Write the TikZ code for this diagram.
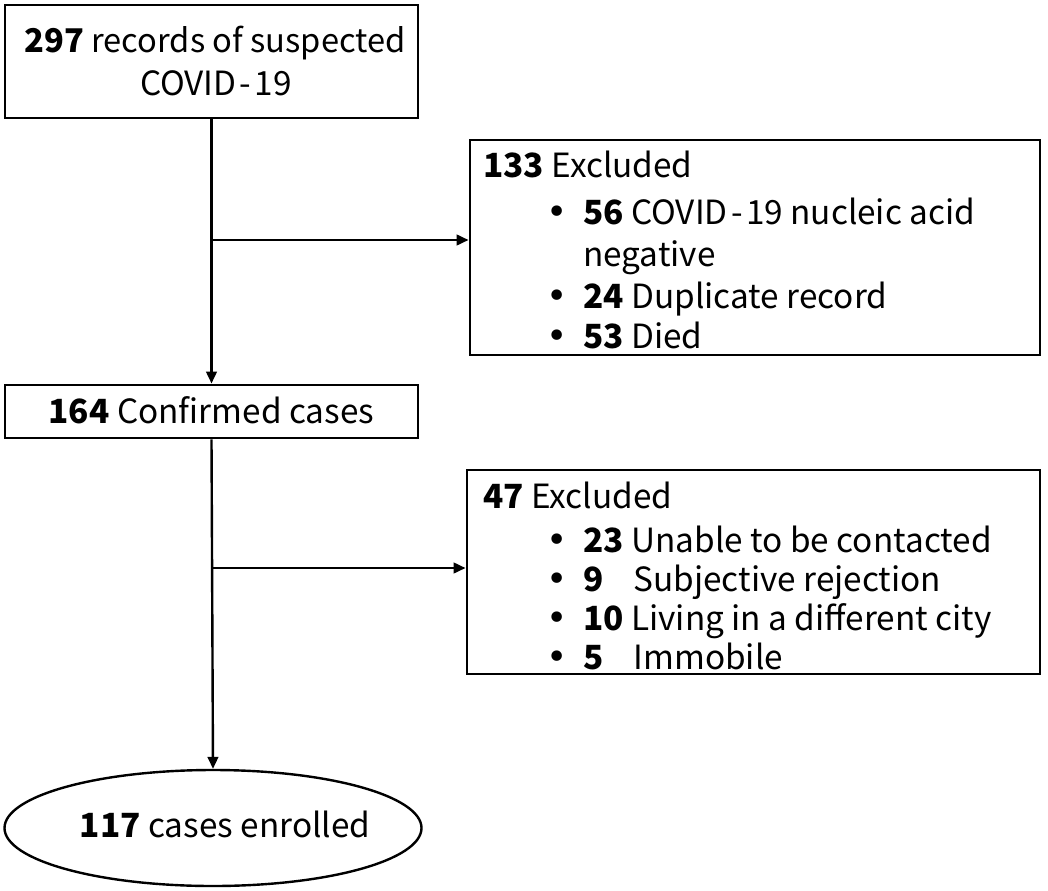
\documentclass[tikz,border=0pt]{standalone}
\usepackage{fontspec}
\setmainfont{Noto Sans CJK SC}
\newfontfamily\bulfont{DejaVu Sans}
\usetikzlibrary{arrows.meta,shapes.geometric}
\newcommand{\hy}{\kern2.5pt-\kern2.5pt}
\newcommand{\bul}{{\bulfont\fontsize{27}{30}\selectfont •}}
\tikzset{
  boxst/.style={draw, line width=2.2pt, rectangle, inner sep=0pt},
  ellst/.style={draw, line width=1.8pt, ellipse, inner sep=0pt},
  conn/.style={line width=1.8pt, -{Triangle[length=9pt,width=8pt]}},
  txt/.style={font=\fontsize{25}{30}\selectfont, inner sep=0pt},
  ltxt/.style={txt, anchor=base west},
  btxt/.style={inner sep=0pt, anchor=base},
}
\begin{document}
\begin{tikzpicture}[x=0.75pt,y=-0.75pt]
\useasboundingbox (0,0) rectangle (1048,891);
% boxes
\node[boxst, minimum width=309.75pt, minimum height=84.75pt] (b1) at (211.5,61.5) {};
\node[boxst, minimum width=309.75pt, minimum height=39.75pt] (b2) at (211.5,411.5) {};
\node[boxst, minimum width=427.5pt, minimum height=161.25pt] (b3) at (755,247.5) {};
\node[boxst, minimum width=429.75pt, minimum height=153pt] (b4) at (753.5,572) {};
\node[ellst, minimum width=312.75pt, minimum height=87pt] (en) at (213,828) {};
% box texts
\node[txt, anchor=base, font=\fontsize{24.5}{30}\selectfont] (t1a) at (215,53) {\textbf{297} records of suspected};
\node[txt, anchor=base] (t1b) at (216,96) {COVID\hy 19};
\node[txt, anchor=base] (t2) at (211.5,423) {\textbf{164} Confirmed cases};
\node[txt, anchor=base] (t5) at (225,837) {\textbf{117} cases enrolled};
% box 3 lines
\node[ltxt] (h3) at (483,178) {\textbf{133} Excluded};
\node[btxt] (u1) at (557,224) {\bul};
\node[ltxt] (l1) at (583,224) {\textbf{56} COVID\hy 19 nucleic acid};
\node[ltxt] (l1b) at (583,266) {negative};
\node[btxt] (u2) at (557,308) {\bul};
\node[ltxt] (l2) at (583,308) {\textbf{24} Duplicate record};
\node[btxt] (u3) at (557,348) {\bul};
\node[ltxt] (l3) at (583,348) {\textbf{53} Died};
% box 4 lines
\node[ltxt] (h4) at (483,508) {\textbf{47} Excluded};
\node[btxt] (v1) at (557,552) {\bul};
\node[ltxt] (m1) at (583,552) {\textbf{23} Unable to be contacted};
\node[btxt] (v2) at (557,591) {\bul};
\node[ltxt] (m2) at (583,591) {\textbf{9}\hspace{0.9em}Subjective rejection};
\node[btxt] (v3) at (557,630) {\bul};
\node[ltxt] (m3) at (583,630) {\textbf{10} Living in a different city};
\node[btxt] (v4) at (557,669) {\bul};
\node[ltxt] (m4) at (583,669) {\textbf{5}\hspace{0.9em}Immobile};
% connectors
\coordinate (j1) at (211.5,240);
\coordinate (j2) at (211.5,568);
\draw[conn] (b1.south) -- (b2.north);
\draw[conn] (b2.south) -- (en.north);
\draw[conn] (j1) -- (j1 -| b3.west);
\draw[conn] (j2) -- (j2 -| b4.west);
\end{tikzpicture}
\end{document}
